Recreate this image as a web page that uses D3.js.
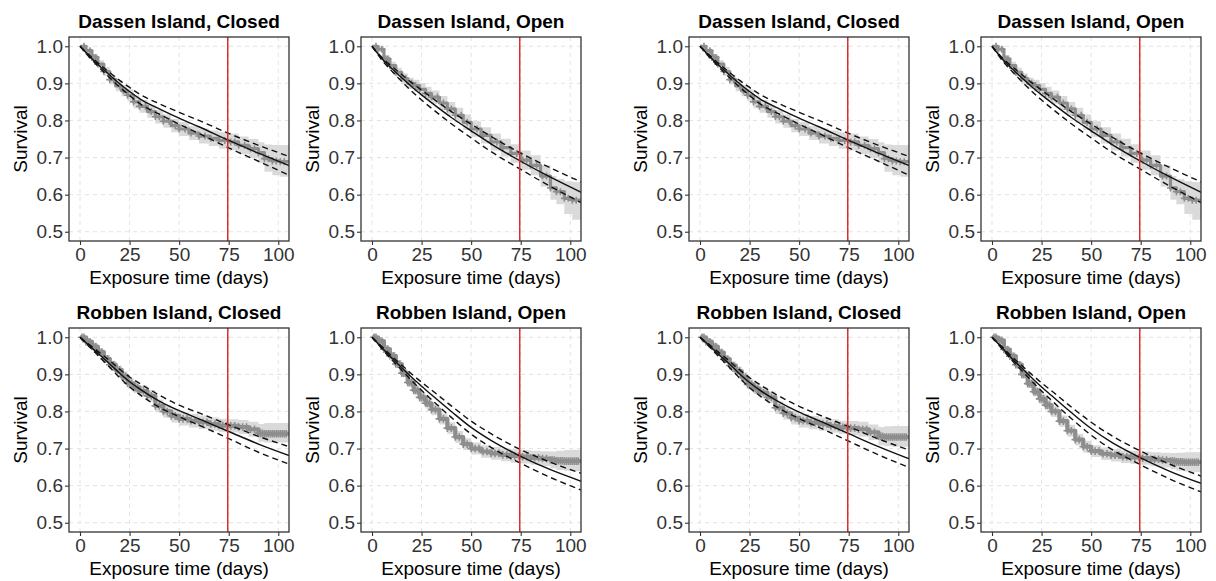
<!DOCTYPE html>
<html><head><meta charset="utf-8">
<script src="https://cdn.jsdelivr.net/npm/d3@7"></script>
<style>
body{margin:0;background:#fff;}
svg text{font-family:"Liberation Sans",Arial,Helvetica,sans-serif;}
</style>
</head><body>
<svg id="chart" width="1216" height="581"></svg>
<script>
// ---------- data ----------
const xTicks = [0, 25, 50, 75, 100];
const yTicks = [0.5, 0.6, 0.7, 0.8, 0.9, 1.0];
const cutoffDay = 74.5;
const panelTitles = [
  "Dassen Island, Closed", "Dassen Island, Open", "Dassen Island, Closed", "Dassen Island, Open",
  "Robben Island, Closed", "Robben Island, Open", "Robben Island, Closed", "Robben Island, Open"
];

// fitted model curves (solid) and confidence limits (dashed)
const fitDays = [0, 5, 10, 15, 20, 25, 30, 40, 50, 60, 75, 90, 106];
const dcFit   = [1.000, 0.972, 0.946, 0.922, 0.899, 0.878, 0.859, 0.831, 0.806, 0.783, 0.746, 0.712, 0.677];
const dcFitHi = [1.000, 0.975, 0.951, 0.929, 0.908, 0.889, 0.871, 0.845, 0.822, 0.800, 0.765, 0.733, 0.702];
const dcFitLo = [1.000, 0.969, 0.941, 0.915, 0.890, 0.867, 0.846, 0.817, 0.790, 0.765, 0.726, 0.690, 0.651];
const doFit   = [1.000, 0.967, 0.940, 0.915, 0.891, 0.869, 0.848, 0.808, 0.772, 0.737, 0.690, 0.647, 0.605];
const doFitHi = [1.000, 0.970, 0.946, 0.924, 0.902, 0.882, 0.862, 0.824, 0.790, 0.757, 0.712, 0.672, 0.633];
const doFitLo = [1.000, 0.963, 0.933, 0.905, 0.879, 0.855, 0.833, 0.791, 0.753, 0.716, 0.668, 0.622, 0.577];
const rcFit   = [1.000, 0.976, 0.952, 0.928, 0.903, 0.880, 0.861, 0.828, 0.802, 0.780, 0.746, 0.712, 0.680];
const rcFitHi = [1.000, 0.979, 0.958, 0.937, 0.914, 0.893, 0.876, 0.844, 0.817, 0.796, 0.764, 0.733, 0.704];
const rcFitLo = [1.000, 0.973, 0.946, 0.919, 0.891, 0.866, 0.846, 0.811, 0.786, 0.763, 0.727, 0.690, 0.657];
const roFit   = [1.000, 0.972, 0.944, 0.918, 0.892, 0.868, 0.845, 0.800, 0.757, 0.722, 0.679, 0.643, 0.611];
const roFitHi = [1.000, 0.975, 0.949, 0.925, 0.901, 0.879, 0.858, 0.815, 0.774, 0.740, 0.697, 0.663, 0.632];
const roFitLo = [1.000, 0.969, 0.939, 0.911, 0.883, 0.857, 0.832, 0.784, 0.739, 0.703, 0.660, 0.622, 0.587];
const rc2Fit   = [1.000, 0.976, 0.951, 0.927, 0.901, 0.878, 0.858, 0.825, 0.798, 0.775, 0.740, 0.705, 0.671];
const rc2FitHi = [1.000, 0.979, 0.957, 0.935, 0.912, 0.891, 0.873, 0.841, 0.814, 0.791, 0.759, 0.726, 0.695];
const rc2FitLo = [1.000, 0.973, 0.945, 0.918, 0.890, 0.864, 0.843, 0.808, 0.781, 0.757, 0.720, 0.683, 0.648];
const ro2Fit   = [1.000, 0.972, 0.943, 0.917, 0.891, 0.866, 0.843, 0.797, 0.754, 0.718, 0.675, 0.638, 0.605];
const ro2FitHi = [1.000, 0.975, 0.948, 0.924, 0.900, 0.877, 0.856, 0.812, 0.771, 0.736, 0.693, 0.657, 0.625];
const ro2FitLo = [1.000, 0.969, 0.938, 0.910, 0.882, 0.855, 0.830, 0.781, 0.736, 0.699, 0.656, 0.617, 0.582];

// Kaplan-Meier step estimates with confidence band
const kmDays = [0, 3, 6, 9, 12, 15, 18, 21, 24, 27, 30, 34, 38, 42, 46, 50, 55, 60, 65, 70, 75, 80, 85, 90, 93, 97, 101, 106];
const dcKm   = [1.000, 0.988, 0.970, 0.952, 0.932, 0.910, 0.893, 0.880, 0.868, 0.850, 0.838, 0.824, 0.810, 0.798, 0.786, 0.777, 0.766, 0.758, 0.752, 0.746, 0.742, 0.733, 0.724, 0.713, 0.697, 0.691, 0.689, 0.689];
const dcKmHi = [1.000, 0.994, 0.978, 0.962, 0.944, 0.923, 0.907, 0.895, 0.884, 0.867, 0.855, 0.841, 0.828, 0.816, 0.804, 0.796, 0.785, 0.778, 0.773, 0.768, 0.765, 0.757, 0.750, 0.741, 0.735, 0.734, 0.734, 0.734];
const dcKmLo = [1.000, 0.982, 0.962, 0.942, 0.920, 0.897, 0.879, 0.865, 0.852, 0.833, 0.821, 0.807, 0.792, 0.780, 0.768, 0.758, 0.747, 0.738, 0.731, 0.724, 0.719, 0.709, 0.698, 0.685, 0.662, 0.652, 0.648, 0.648];
const doKm   = [1.000, 0.992, 0.966, 0.948, 0.930, 0.913, 0.900, 0.894, 0.884, 0.873, 0.863, 0.847, 0.831, 0.814, 0.795, 0.777, 0.760, 0.742, 0.727, 0.711, 0.693, 0.679, 0.650, 0.618, 0.608, 0.590, 0.585, 0.585];
const doKmHi = [1.000, 1.000, 0.975, 0.958, 0.942, 0.927, 0.915, 0.910, 0.901, 0.891, 0.881, 0.866, 0.850, 0.834, 0.816, 0.798, 0.782, 0.765, 0.751, 0.736, 0.719, 0.706, 0.679, 0.650, 0.642, 0.636, 0.634, 0.634];
const doKmLo = [1.000, 0.984, 0.957, 0.938, 0.918, 0.899, 0.885, 0.878, 0.867, 0.855, 0.845, 0.828, 0.812, 0.794, 0.774, 0.756, 0.738, 0.719, 0.703, 0.686, 0.667, 0.652, 0.621, 0.586, 0.574, 0.548, 0.532, 0.532];
const rcKm   = [1.000, 0.988, 0.975, 0.960, 0.942, 0.926, 0.912, 0.895, 0.876, 0.865, 0.855, 0.842, 0.815, 0.800, 0.788, 0.780, 0.775, 0.771, 0.766, 0.762, 0.761, 0.758, 0.752, 0.741, 0.740, 0.740, 0.740, 0.740];
const rcKmHi = [1.000, 0.995, 0.983, 0.969, 0.952, 0.937, 0.924, 0.908, 0.890, 0.880, 0.870, 0.858, 0.832, 0.817, 0.806, 0.798, 0.793, 0.789, 0.784, 0.780, 0.779, 0.777, 0.772, 0.766, 0.769, 0.769, 0.769, 0.769];
const rcKmLo = [1.000, 0.981, 0.967, 0.951, 0.932, 0.915, 0.900, 0.882, 0.862, 0.850, 0.840, 0.826, 0.798, 0.783, 0.770, 0.762, 0.757, 0.753, 0.748, 0.744, 0.743, 0.739, 0.732, 0.718, 0.716, 0.716, 0.716, 0.716];
const roKm   = [1.000, 0.990, 0.968, 0.950, 0.928, 0.903, 0.878, 0.857, 0.838, 0.822, 0.805, 0.780, 0.755, 0.731, 0.712, 0.700, 0.692, 0.687, 0.683, 0.680, 0.678, 0.675, 0.673, 0.669, 0.667, 0.666, 0.666, 0.666];
const roKmHi = [1.000, 0.997, 0.976, 0.959, 0.938, 0.914, 0.890, 0.870, 0.852, 0.836, 0.820, 0.795, 0.771, 0.747, 0.728, 0.716, 0.709, 0.704, 0.700, 0.698, 0.696, 0.694, 0.693, 0.692, 0.694, 0.696, 0.697, 0.697];
const roKmLo = [1.000, 0.983, 0.960, 0.941, 0.918, 0.892, 0.866, 0.844, 0.824, 0.808, 0.790, 0.765, 0.739, 0.715, 0.696, 0.684, 0.675, 0.670, 0.666, 0.662, 0.660, 0.656, 0.653, 0.647, 0.642, 0.640, 0.639, 0.639];
const rc2Km   = [1.000, 0.988, 0.975, 0.959, 0.941, 0.924, 0.909, 0.892, 0.873, 0.862, 0.851, 0.838, 0.810, 0.795, 0.783, 0.775, 0.770, 0.766, 0.761, 0.757, 0.755, 0.752, 0.744, 0.733, 0.731, 0.731, 0.731, 0.731];
const rc2KmHi = [1.000, 0.995, 0.983, 0.968, 0.951, 0.935, 0.921, 0.905, 0.887, 0.877, 0.866, 0.854, 0.827, 0.812, 0.801, 0.793, 0.788, 0.784, 0.779, 0.775, 0.774, 0.772, 0.765, 0.758, 0.760, 0.761, 0.761, 0.761];
const rc2KmLo = [1.000, 0.981, 0.967, 0.950, 0.931, 0.913, 0.897, 0.879, 0.859, 0.847, 0.836, 0.822, 0.793, 0.778, 0.765, 0.757, 0.752, 0.748, 0.743, 0.739, 0.736, 0.732, 0.723, 0.709, 0.706, 0.705, 0.705, 0.705];
const ro2Km   = [1.000, 0.992, 0.967, 0.949, 0.926, 0.900, 0.875, 0.853, 0.834, 0.817, 0.800, 0.774, 0.748, 0.724, 0.705, 0.693, 0.686, 0.682, 0.678, 0.676, 0.674, 0.671, 0.669, 0.666, 0.664, 0.663, 0.663, 0.663];
const ro2KmHi = [1.000, 0.999, 0.975, 0.958, 0.936, 0.911, 0.887, 0.866, 0.848, 0.831, 0.815, 0.789, 0.764, 0.740, 0.721, 0.709, 0.703, 0.699, 0.695, 0.694, 0.692, 0.690, 0.689, 0.688, 0.689, 0.690, 0.690, 0.690];
const ro2KmLo = [1.000, 0.985, 0.959, 0.940, 0.916, 0.889, 0.863, 0.840, 0.820, 0.803, 0.785, 0.759, 0.732, 0.708, 0.689, 0.677, 0.669, 0.665, 0.661, 0.658, 0.656, 0.652, 0.649, 0.644, 0.640, 0.638, 0.637, 0.637];

// censoring times (days) marked with "+"
const dassenCensor = [2, 3, 5, 6, 7, 8, 9, 12, 15, 17, 20, 22, 24, 27, 30, 33, 36, 38, 40, 42, 45, 48, 50, 53, 56, 60, 63, 66, 70, 73, 76, 78, 80, 83, 86, 88, 90, 93, 95, 97, 99, 101, 103];
const robbenCensor = [1, 2, 3, 4, 5, 6, 7, 8, 9, 10, 11, 12, 13, 14, 15, 16, 17, 18, 19, 20, 21, 22, 23, 24, 25, 26, 27, 28, 29, 30, 32, 34, 36, 38, 40, 42, 44, 46, 48, 50, 52, 54, 56, 58, 60, 62, 64, 66, 68, 70, 72, 74, 76, 78, 80, 82, 84, 86, 88, 90, 91, 92, 93, 94, 95, 96, 97, 98, 99, 100, 101, 102, 103, 104];

// ---------- table built from the arrays ----------
const panels = [
  {title: panelTitles[0], fit: dcFit, hi: dcFitHi, lo: dcFitLo, km: dcKm, kmHi: dcKmHi, kmLo: dcKmLo, cens: dassenCensor},
  {title: panelTitles[1], fit: doFit, hi: doFitHi, lo: doFitLo, km: doKm, kmHi: doKmHi, kmLo: doKmLo, cens: dassenCensor},
  {title: panelTitles[2], fit: dcFit, hi: dcFitHi, lo: dcFitLo, km: dcKm, kmHi: dcKmHi, kmLo: dcKmLo, cens: dassenCensor},
  {title: panelTitles[3], fit: doFit, hi: doFitHi, lo: doFitLo, km: doKm, kmHi: doKmHi, kmLo: doKmLo, cens: dassenCensor},
  {title: panelTitles[4], fit: rcFit, hi: rcFitHi, lo: rcFitLo, km: rcKm, kmHi: rcKmHi, kmLo: rcKmLo, cens: robbenCensor},
  {title: panelTitles[5], fit: roFit, hi: roFitHi, lo: roFitLo, km: roKm, kmHi: roKmHi, kmLo: roKmLo, cens: robbenCensor},
  {title: panelTitles[6], fit: rc2Fit, hi: rc2FitHi, lo: rc2FitLo, km: rc2Km, kmHi: rc2KmHi, kmLo: rc2KmLo, cens: robbenCensor},
  {title: panelTitles[7], fit: ro2Fit, hi: ro2FitHi, lo: ro2FitLo, km: ro2Km, kmHi: ro2KmHi, kmLo: ro2KmLo, cens: robbenCensor}
];

// ---------- layout ----------
const colLeft = [69, 361, 689, 981];
const rowTop = [37, 328];
const W = 220, H = 204;
const FS = 19;

const svg = d3.select("#chart");
const x = d3.scaleLinear().domain([-5.55, 105.4]).range([0, W]);
const y = d3.scaleLinear().domain([0.475, 1.025]).range([H, 0]);

const fitLine = d3.line().x(d => x(d[0])).y(d => y(d[1])).curve(d3.curveMonotoneX);
const stepLine = d3.line().x(d => x(d[0])).y(d => y(d[1])).curve(d3.curveStepAfter);
const stepArea = d3.area().x(d => x(d[0])).y0(d => y(d[1])).y1(d => y(d[2])).curve(d3.curveStepAfter);

panels.forEach((p, i) => {
  const L = colLeft[i % 4], T = rowTop[Math.floor(i / 4)];
  const isRobben = i >= 4;
  const g = svg.append("g").attr("transform", `translate(${L},${T})`);
  const clipId = "clip" + i;
  g.append("clipPath").attr("id", clipId).append("rect").attr("width", W).attr("height", H);

  // grid
  const grid = g.append("g").attr("clip-path", `url(#${clipId})`);
  grid.selectAll("line.gx").data(xTicks).join("line")
    .attr("x1", d => x(d)).attr("x2", d => x(d)).attr("y1", 0).attr("y2", H)
    .attr("stroke", "#e3e3e3").attr("stroke-width", 1).attr("stroke-dasharray", "4,4");
  grid.selectAll("line.gy").data(yTicks).join("line")
    .attr("y1", d => y(d)).attr("y2", d => y(d)).attr("x1", 0).attr("x2", W)
    .attr("stroke", "#e3e3e3").attr("stroke-width", 1).attr("stroke-dasharray", "4,4");

  const plot = g.append("g").attr("clip-path", `url(#${clipId})`);
  // KM band
  const bandData = kmDays.map((t, k) => [t, p.kmLo[k], p.kmHi[k]]);
  plot.append("path").attr("d", stepArea(bandData)).attr("fill", "#dadada");
  // KM curve
  const kmData = kmDays.map((t, k) => [t, p.km[k]]);
  plot.append("path").attr("d", stepLine(kmData)).attr("fill", "none")
    .attr("stroke", "#8e8e8e").attr("stroke-width", isRobben ? 4.2 : 3.2)
    .attr("stroke-linejoin", "round");
  // censor marks
  const kmAt = t => p.km[d3.bisectRight(kmDays, t) - 1];
  const cs = isRobben ? 3.8 : 3.5;
  plot.selectAll("path.cens").data(p.cens).join("path")
    .attr("d", t => {
      const cx = x(t), cy = y(kmAt(t));
      return `M${cx - cs},${cy}H${cx + cs}M${cx},${cy - cs}V${cy + cs}`;
    })
    .attr("stroke", "#8e8e8e").attr("stroke-width", 1.6).attr("fill", "none");

  // fitted curves
  const mk = arr => fitDays.map((t, k) => [t, arr[k]]);
  plot.append("path").attr("d", fitLine(mk(p.hi))).attr("fill", "none")
    .attr("stroke", "#111").attr("stroke-width", 1.4).attr("stroke-dasharray", "6,4");
  plot.append("path").attr("d", fitLine(mk(p.lo))).attr("fill", "none")
    .attr("stroke", "#111").attr("stroke-width", 1.4).attr("stroke-dasharray", "6,4");
  plot.append("path").attr("d", fitLine(mk(p.fit))).attr("fill", "none")
    .attr("stroke", "#111").attr("stroke-width", 1.4);

  // cutoff line
  plot.append("line").attr("x1", x(cutoffDay)).attr("x2", x(cutoffDay)).attr("y1", 0).attr("y2", H)
    .attr("stroke", "#dd2c2c").attr("stroke-width", 1.5);

  // border
  g.append("rect").attr("width", W).attr("height", H).attr("fill", "none")
    .attr("stroke", "#333").attr("stroke-width", 1.3);

  // axes
  const ax = g.append("g").attr("transform", `translate(0,${H})`)
    .call(d3.axisBottom(x).tickValues(xTicks).tickSize(4).tickPadding(3).tickFormat(d3.format("d")));
  const ay = g.append("g")
    .call(d3.axisLeft(y).tickValues(yTicks).tickSize(4).tickPadding(2).tickFormat(d3.format(".1f")));
  [ax, ay].forEach(a => {
    a.select(".domain").remove();
    a.selectAll(".tick line").attr("stroke", "#333").attr("stroke-width", 1.1);
    a.selectAll(".tick text").attr("fill", "#333").style("font-size", FS + "px")
      .style("font-family", '"Liberation Sans", Arial, sans-serif');
  });

  // titles
  g.append("text").attr("x", W / 2).attr("y", -9).attr("text-anchor", "middle")
    .style("font-size", FS + "px").style("font-weight", "bold").attr("fill", "#000").text(p.title);
  g.append("text").attr("x", W / 2).attr("y", H + 42.5).attr("text-anchor", "middle")
    .style("font-size", FS + "px").attr("fill", "#000").text("Exposure time (days)");
  g.append("text").attr("transform", `translate(-42,${H / 2}) rotate(-90)`).attr("text-anchor", "middle")
    .style("font-size", FS + "px").attr("fill", "#000").text("Survival");
});
</script>
</body></html>
